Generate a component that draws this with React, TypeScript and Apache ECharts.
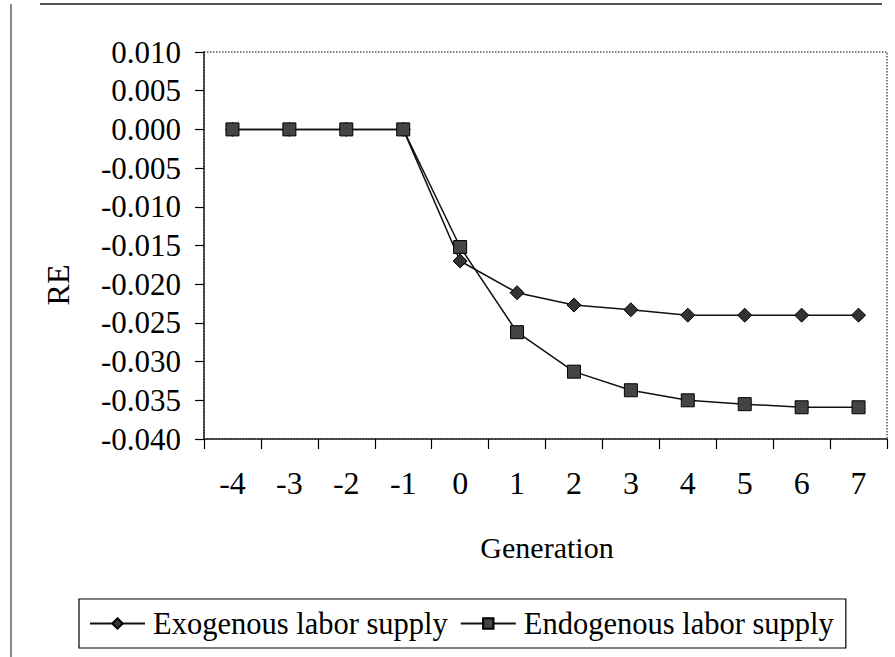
import React, { useEffect, useRef } from "react";
import * as echarts from "echarts";

const generations = ["-4", "-3", "-2", "-1", "0", "1", "2", "3", "4", "5", "6", "7"];
const exogenous = [0, 0, 0, 0, -0.0170, -0.0211, -0.0227, -0.0233, -0.0240, -0.0240, -0.0240, -0.0240];
const endogenous = [0, 0, 0, 0, -0.0152, -0.0262, -0.0313, -0.0337, -0.0350, -0.0355, -0.0359, -0.0359];
const yMin = -0.04;
const yMax = 0.01;
const yStep = 0.005;

const FONT = "'Liberation Serif', 'Times New Roman', serif";

export default function App() {
  const ref = useRef<HTMLDivElement>(null);
  useEffect(() => {
    if (!ref.current) return;
    const chart = echarts.init(ref.current, null, { renderer: "svg" });
    chart.setOption({
      animation: false,
      backgroundColor: "#fff",
      textStyle: { fontFamily: FONT, color: "#000" },
      grid: {
        left: 204,
        right: 8,
        top: 52,
        bottom: 218,
        show: true,
        borderColor: "#555",
        borderWidth: 1.5,
        borderType: "dotted",
      },
      xAxis: {
        type: "category",
        data: generations,
        boundaryGap: true,
        axisLine: { show: true, onZero: false, lineStyle: { color: "#222", width: 1.5 } },
        axisTick: { show: true, inside: false, length: 10, alignWithLabel: false, lineStyle: { color: "#000", width: 1.2 } },
        axisLabel: { fontFamily: FONT, fontSize: 32, color: "#000", margin: 28 },
        splitLine: { show: false },
      },
      yAxis: {
        type: "value",
        min: yMin,
        max: yMax,
        interval: yStep,
        axisLine: { show: true, lineStyle: { color: "#222", width: 1.5 } },
        axisTick: { show: true, inside: false, length: 9, lineStyle: { color: "#000", width: 1.2 } },
        axisLabel: {
          fontFamily: FONT,
          fontSize: 31,
          color: "#000",
          margin: 23,
          formatter: (v: number) => v.toFixed(3).replace("-0.000", "0.000"),
        },
        splitLine: { show: false },
      },
      legend: {
        left: 79,
        top: 599,
        orient: "horizontal",
        padding: [9, 12, 9, 10],
        borderColor: "#000",
        borderWidth: 1.2,
        itemGap: 12,
        itemWidth: 55,
        itemHeight: 13,
        textStyle: { fontFamily: FONT, fontSize: 30.5, color: "#000", padding: [0, 0, 0, 3] },
        data: ["Exogenous labor supply", "Endogenous labor supply"],
      },
      graphic: [
        {
          type: "line",
          shape: { x1: 40, y1: 4, x2: 882, y2: 4 },
          style: { stroke: "#555", lineWidth: 2 },
        },
        {
          type: "line",
          shape: { x1: 11, y1: 4, x2: 11, y2: 657 },
          style: { stroke: "#888", lineWidth: 2 },
        },
        {
          type: "text",
          x: 58,
          y: 285,
          rotation: Math.PI / 2,
          style: {
            text: "RE",
            fontFamily: FONT,
            fontSize: 32,
            fill: "#000",
            align: "center",
            verticalAlign: "middle",
          },
        },
        {
          type: "text",
          x: 547,
          y: 547,
          style: {
            text: "Generation",
            fontFamily: FONT,
            fontSize: 30,
            fill: "#000",
            align: "center",
            verticalAlign: "middle",
          },
        },
      ],
      series: [
        {
          name: "Exogenous labor supply",
          type: "line",
          data: exogenous,
          symbol: "diamond",
          symbolSize: 14,
          lineStyle: { color: "#111", width: 1.5 },
          itemStyle: { color: "#333", borderColor: "#000", borderWidth: 1 },
        },
        {
          name: "Endogenous labor supply",
          type: "line",
          data: endogenous,
          symbol: "rect",
          symbolSize: 13,
          lineStyle: { color: "#111", width: 1.5 },
          itemStyle: { color: "#444", borderColor: "#000", borderWidth: 1 },
        },
      ],
    });
    return () => chart.dispose();
  }, []);
  return (
    <div
      ref={ref}
      style={{ position: "fixed", left: 0, top: 0, width: 895, height: 657, background: "#fff" }}
    />
  );
}
